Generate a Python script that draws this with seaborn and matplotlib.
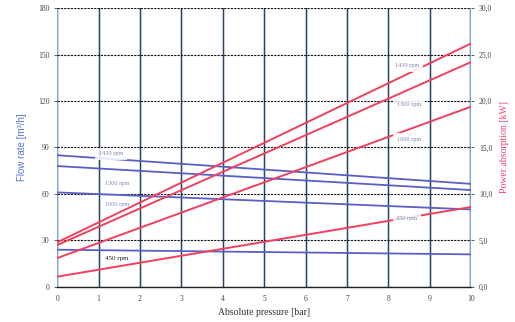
import numpy as np
import pandas as pd
import matplotlib
matplotlib.use("Agg")
import matplotlib.pyplot as plt
import seaborn as sns

# data
pressure = [0, 10]
speeds = ["1439 rpm", "1300 rpm", "1000 rpm", "450 rpm"]
flow_start = [85, 78, 61, 24]      # m3/h at 0 bar
flow_end = [66.5, 62.5, 50, 21]    # m3/h at 10 bar
power_start = [4.8, 4.5, 3.1, 1.1]   # kW at 0 bar
power_end = [26.2, 24.2, 19.4, 8.6]  # kW at 10 bar

flow_ticks = [0, 30, 60, 90, 120, 150, 180]
power_ticks = [0, 5, 10, 15, 20, 25, 30]

BLUE = "#5a5fc8"
RED = "#f0405e"


def build_frames():
    rows_f, rows_p = [], []
    for s, f0, f1, p0, p1 in zip(speeds, flow_start, flow_end, power_start, power_end):
        for x, f, p in zip(pressure, [f0, f1], [p0, p1]):
            rows_f.append({"pressure": x, "flow": f, "speed": s})
            rows_p.append({"pressure": x, "power": p, "speed": s})
    return pd.DataFrame(rows_f), pd.DataFrame(rows_p)


def plot_chart():
    sns.set_theme(style="white")
    plt.rcParams["font.family"] = ["Liberation Serif", "DejaVu Serif"]

    df_flow, df_power = build_frames()

    fig = plt.figure(figsize=(5.15, 3.22), dpi=100)
    ax = fig.add_axes([0.111, 0.109, 0.804, 0.866])
    ax2 = ax.twinx()

    ax.set_xlim(0, 10)
    ax.set_ylim(0, 180)
    ax2.set_ylim(0, 30)

    # grid: solid vertical, dashed horizontal
    for x in range(1, 10):
        ax.axvline(x, color="#c4daf0", lw=2.2, zorder=0.5)
        ax.axvline(x, color="#3a3f4a", lw=0.8, zorder=0.6)
    for x in (0, 10):
        ax.axvline(x, color="#b9d3f0", lw=2.6, zorder=0.5)
        ax.axvline(x, color="#6f9ad6", lw=1.2, zorder=0.6)
    for y in flow_ticks:
        ax.axhline(y, color="#111111", lw=0.8, ls=(0, (2, 1)), zorder=0.6)

    sns.lineplot(data=df_flow, x="pressure", y="flow", units="speed",
                 estimator=None, color=BLUE, lw=1.3, ax=ax, zorder=3)
    sns.lineplot(data=df_power, x="pressure", y="power", units="speed",
                 estimator=None, color=RED, lw=1.4, ax=ax2, zorder=3)

    # rpm labels
    lab = dict(fontsize=4.5, color="#7a86b8", ha="center", va="center",
               bbox=dict(facecolor="white", edgecolor="none", alpha=0.85, pad=2.5))
    ax.text(1.3, 86, speeds[0], zorder=5, **lab)
    ax.text(1.45, 67, speeds[1], zorder=5, **lab)
    ax.text(1.45, 53.5, speeds[2], zorder=5, **lab)
    ax.text(1.45, 18.5, speeds[3], fontsize=5, color="#222222",
            ha="center", va="center", zorder=5)
    ax2.text(8.45, 23.8, speeds[0], zorder=5, **lab)
    ax2.text(8.5, 19.6, speeds[1], zorder=5, **lab)
    ax2.text(8.5, 15.9, speeds[2], zorder=5, **lab)
    ax2.text(8.45, 7.4, speeds[3], zorder=5, **lab)

    ax.set_xticks(range(0, 11))
    ax.set_yticks(flow_ticks)
    ax2.set_yticks(power_ticks)
    ax2.set_yticklabels([f"{v:.1f}".replace(".", ",") for v in power_ticks])

    for a in (ax, ax2):
        a.tick_params(labelsize=5.5, colors="#444444", length=2, width=0.6)
        for sp in a.spines.values():
            sp.set_visible(False)
    ax.spines["bottom"].set_visible(True)
    ax.spines["bottom"].set_color("#222222")
    ax.spines["bottom"].set_linewidth(1.0)

    ax.set_xlabel("Absolute pressure [bar]", fontsize=7, color="#333333", labelpad=4)
    ax.set_ylabel("Flow rate [m³/h]", fontsize=7, color="#5577dd",
                  family=["Liberation Sans", "DejaVu Sans"], labelpad=8)
    ax2.set_ylabel("Power absorption [kW]", fontsize=7, color="#f0406a", labelpad=6)
    ax2.grid(False)
    ax.grid(False)

    fig.savefig("out.png", dpi=100)


if __name__ == "__main__":
    plot_chart()
